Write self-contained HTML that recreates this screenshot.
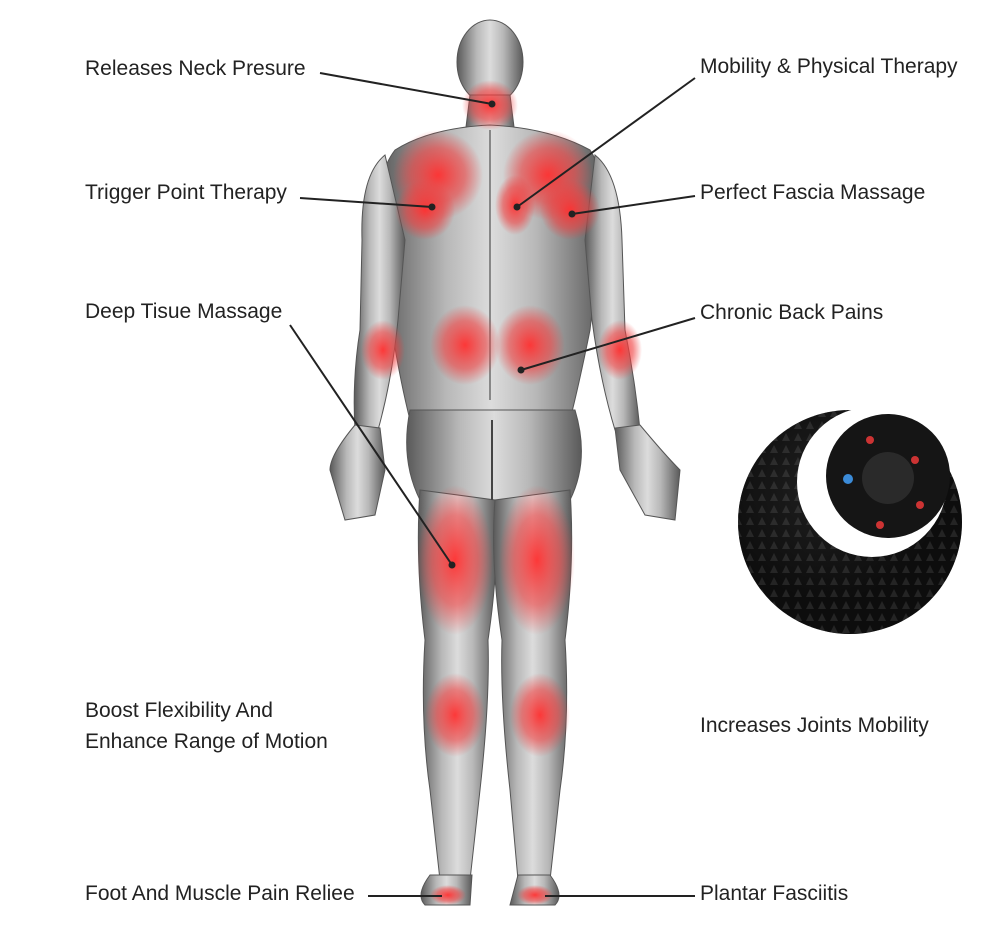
<!DOCTYPE html>
<html><head><meta charset="utf-8"><style>
html,body{margin:0;padding:0;background:#fff;width:994px;height:950px;overflow:hidden}
svg{display:block}
text{font-family:"Liberation Sans",sans-serif;font-size:21px;fill:#222}
</style></head><body>
<svg width="994" height="950" viewBox="0 0 994 950">
<defs>
<linearGradient id="sk" x1="0" x2="1"><stop offset="0" stop-color="#5a5a5a"/><stop offset="0.3" stop-color="#b8b8b8"/><stop offset="0.5" stop-color="#dcdcdc"/><stop offset="0.7" stop-color="#b8b8b8"/><stop offset="1" stop-color="#5a5a5a"/></linearGradient>
<radialGradient id="rd"><stop offset="0" stop-color="#ff3030" stop-opacity="0.95"/><stop offset="0.6" stop-color="#f04040" stop-opacity="0.6"/><stop offset="1" stop-color="#f04040" stop-opacity="0"/></radialGradient>
<radialGradient id="ball" cx="0.4" cy="0.35"><stop offset="0" stop-color="#333"/><stop offset="1" stop-color="#080808"/></radialGradient>
<pattern id="sp" width="12" height="12" patternUnits="userSpaceOnUse"><rect width="12" height="12" fill="#111"/><path d="M6 1 L10 9 L2 9 Z" fill="#3a3a3a"/></pattern>
</defs>
<g fill="url(#sk)" stroke="#555" stroke-width="1">
<ellipse cx="490" cy="62" rx="33" ry="42"/>
<path d="M470 95 L510 95 L515 135 L465 135 Z"/>
<path d="M395 150 Q430 128 490 125 Q550 128 590 150 Q610 180 600 240 L590 330 Q580 380 570 420 L410 420 Q400 380 392 330 L382 240 Q372 180 395 150 Z"/>
<path d="M385 155 Q360 175 362 240 L360 330 Q352 380 355 430 L378 430 Q392 380 398 320 L405 240 Z"/>
<path d="M595 155 Q620 175 622 240 L625 330 Q635 380 640 430 L615 430 Q600 380 592 320 L585 240 Z"/>
<path d="M355 425 Q330 455 330 470 L345 520 L375 515 L385 470 L380 428 Z"/>
<path d="M640 425 Q665 455 680 470 L675 520 L645 515 L620 470 L615 428 Z"/>
<path d="M410 410 Q400 460 420 500 L570 500 Q590 460 575 410 Z"/>
<path d="M420 490 Q415 560 425 640 Q420 720 430 790 L440 880 L470 880 L480 790 Q490 700 488 640 Q500 560 495 500 Z"/>
<path d="M570 490 Q575 560 565 640 Q570 720 560 790 L550 880 L518 880 L510 790 Q500 700 502 640 Q490 560 495 500 Z"/>
<path d="M430 875 Q415 895 425 905 L470 905 L472 875 Z"/>
<path d="M550 875 Q565 895 555 905 L510 905 L518 875 Z"/>
</g>
<line x1="490" y1="130" x2="490" y2="400" stroke="#888" stroke-width="2"/>
<path d="M492 420 L492 500" stroke="#444" stroke-width="2"/>
<g fill="url(#rd)">
<ellipse cx="490" cy="105" rx="28" ry="25"/>
<ellipse cx="438" cy="175" rx="45" ry="45"/>
<ellipse cx="548" cy="175" rx="45" ry="45"/>
<ellipse cx="425" cy="210" rx="30" ry="30"/>
<ellipse cx="570" cy="210" rx="30" ry="30"/>
<ellipse cx="515" cy="205" rx="20" ry="30"/>
<ellipse cx="465" cy="345" rx="35" ry="40"/>
<ellipse cx="530" cy="345" rx="35" ry="40"/>
<ellipse cx="383" cy="350" rx="22" ry="30"/>
<ellipse cx="620" cy="350" rx="22" ry="30"/>
<ellipse cx="455" cy="560" rx="38" ry="75"/>
<ellipse cx="537" cy="560" rx="38" ry="75"/>
<ellipse cx="455" cy="715" rx="30" ry="42"/>
<ellipse cx="540" cy="715" rx="30" ry="42"/>
<ellipse cx="448" cy="895" rx="18" ry="10"/>
<ellipse cx="535" cy="895" rx="18" ry="10"/>
</g>
<!-- ball -->
<circle cx="850" cy="522" r="112" fill="url(#sp)"/>
<circle cx="850" cy="522" r="112" fill="url(#ball)" opacity="0.45"/>
<circle cx="872" cy="482" r="75" fill="#fff"/>
<circle cx="888" cy="476" r="62" fill="#151515"/>
<circle cx="888" cy="478" r="26" fill="#2a2a2a"/>
<circle cx="848" cy="479" r="5" fill="#3b8bd8"/>
<circle cx="870" cy="440" r="4" fill="#c33"/><circle cx="915" cy="460" r="4" fill="#c33"/><circle cx="920" cy="505" r="4" fill="#c33"/><circle cx="880" cy="525" r="4" fill="#c33"/>
<g stroke="#222" stroke-width="2" fill="none">
<line x1="320" y1="73" x2="492" y2="104"/>
<line x1="695" y1="78" x2="517" y2="207"/>
<line x1="300" y1="198" x2="432" y2="207"/>
<line x1="695" y1="196" x2="572" y2="214"/>
<line x1="290" y1="325" x2="452" y2="565"/>
<line x1="695" y1="318" x2="521" y2="370"/>
<line x1="368" y1="896" x2="442" y2="896"/>
<line x1="545" y1="896" x2="695" y2="896"/>
</g>
<g fill="#222">
<circle cx="492" cy="104" r="3.5"/><circle cx="517" cy="207" r="3.5"/><circle cx="432" cy="207" r="3.5"/><circle cx="572" cy="214" r="3.5"/><circle cx="452" cy="565" r="3.5"/><circle cx="521" cy="370" r="3.5"/>
</g>
<text x="85" y="75">Releases Neck Presure</text>
<text x="700" y="73">Mobility &amp; Physical Therapy</text>
<text x="85" y="199">Trigger Point Therapy</text>
<text x="700" y="199">Perfect Fascia Massage</text>
<text x="85" y="318">Deep Tisue Massage</text>
<text x="700" y="319">Chronic Back Pains</text>
<text x="85" y="717">Boost Flexibility And</text>
<text x="85" y="748">Enhance Range of Motion</text>
<text x="700" y="732">Increases Joints Mobility</text>
<text x="85" y="900">Foot And Muscle Pain Reliee</text>
<text x="700" y="900">Plantar Fasciitis</text>
</svg>
</body></html>
